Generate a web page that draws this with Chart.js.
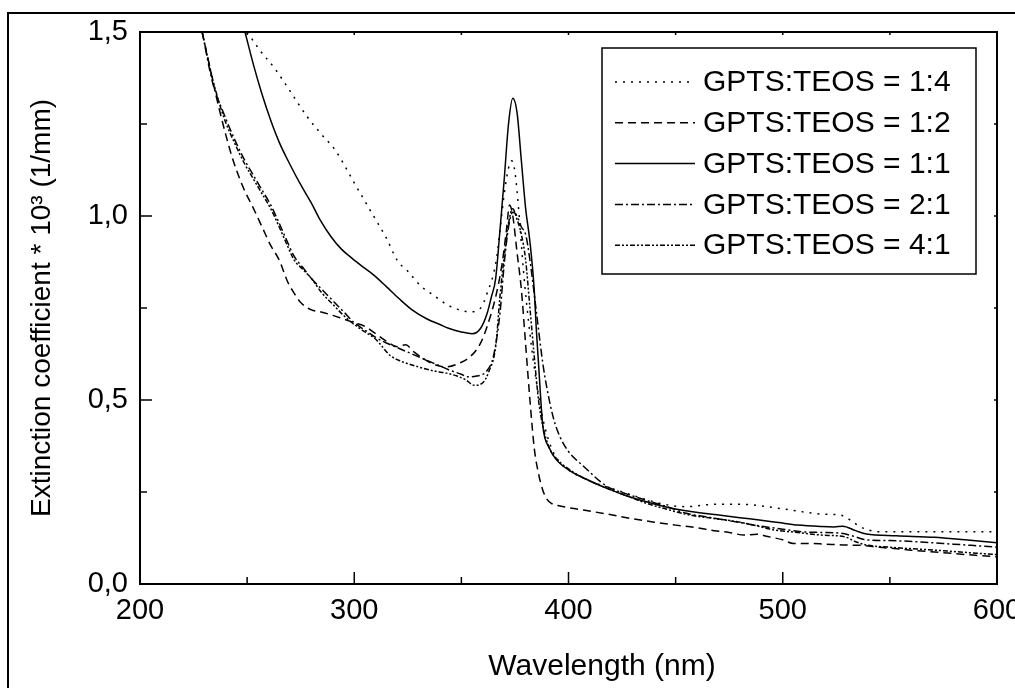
<!DOCTYPE html>
<html>
<head>
<meta charset="utf-8">
<script src="https://cdn.jsdelivr.net/npm/chart.js@4.4.1/dist/chart.umd.min.js"></script>
<style>
  html, body { margin: 0; padding: 0; background: #fff; }
  #wrap { width: 1015px; height: 688px; position: relative; }
</style>
</head>
<body>
<div id="wrap"><canvas id="chart" width="1015" height="688"></canvas></div>
<script>
// axis ticks
const xTicks = [200, 300, 400, 500, 600];
const xMinor = [250, 350, 450, 550];
const yTicks = [0, 0.5, 1.0, 1.5];
const yMinor = [0.25, 0.75, 1.25];

// legend labels
const labels = ['GPTS:TEOS = 1:4', 'GPTS:TEOS = 1:2', 'GPTS:TEOS = 1:1', 'GPTS:TEOS = 2:1', 'GPTS:TEOS = 4:1'];

// GPTS:TEOS = 1:4 (dotted)
const wl14 = [250, 256, 263, 270, 278, 285, 291, 300, 309, 315, 320, 325, 331, 337, 343, 349, 354, 359, 362, 366, 368, 370, 372, 373.5, 375, 377, 379, 382, 385, 388, 392, 396, 400, 410, 420, 436, 446, 455, 464, 472, 479, 486, 493, 505, 518, 527, 532, 536, 545, 560, 571, 585, 600];
const ext14 = [1.5, 1.45, 1.40, 1.34, 1.27, 1.22, 1.18, 1.09, 1.0, 0.94, 0.88, 0.85, 0.81, 0.785, 0.76, 0.745, 0.74, 0.75, 0.79, 0.87, 0.96, 1.06, 1.13, 1.15, 1.12, 1.0, 0.85, 0.68, 0.55, 0.45, 0.37, 0.33, 0.31, 0.28, 0.26, 0.23, 0.215, 0.21, 0.215, 0.217, 0.217, 0.215, 0.21, 0.2, 0.19, 0.187, 0.172, 0.156, 0.142, 0.142, 0.142, 0.142, 0.142];

// GPTS:TEOS = 1:2 (dashed)
const wl12 = [229, 232, 237, 243, 248, 253, 257, 261, 265, 269, 272, 275, 280, 284, 290, 295, 300, 305, 310, 315, 320, 324, 328, 333, 338, 343, 349, 354, 359, 362, 366, 369, 371, 372.5, 374, 376, 378, 380, 382, 384, 386, 388, 390, 392, 396, 407, 418, 429, 440, 450, 460, 468, 475, 482, 488, 493, 500, 505, 512, 518, 528, 536, 545, 560, 575, 590, 600];
const ext12 = [1.5, 1.42, 1.29, 1.16, 1.08, 1.02, 0.97, 0.92, 0.88, 0.82, 0.79, 0.765, 0.745, 0.74, 0.73, 0.72, 0.71, 0.70, 0.68, 0.66, 0.645, 0.65, 0.63, 0.61, 0.595, 0.59, 0.60, 0.617, 0.655, 0.70, 0.78, 0.87, 0.96, 1.03, 1.0, 0.9, 0.8, 0.65, 0.5, 0.37, 0.3, 0.255, 0.23, 0.219, 0.212, 0.201, 0.19, 0.178, 0.168, 0.16, 0.153, 0.145, 0.14, 0.133, 0.135, 0.129, 0.12, 0.11, 0.11, 0.109, 0.106, 0.105, 0.1, 0.092, 0.085, 0.078, 0.074];

// GPTS:TEOS = 1:1 (solid)
const wl11 = [249, 253, 257, 261, 265, 270, 275, 280, 284, 289, 294, 299, 304, 309, 315, 321, 327, 334, 340, 344, 350, 355, 359, 362, 364, 366, 368, 370, 372, 374, 376, 378, 380, 382, 384, 385, 386, 388, 391, 394, 400, 410, 418, 427, 436, 445, 454, 462, 471, 480, 489, 498, 507, 518, 524, 528, 534, 539, 553, 571, 585, 600];
const ext11 = [1.5, 1.41, 1.33, 1.26, 1.20, 1.14, 1.085, 1.035, 0.99, 0.945, 0.91, 0.885, 0.862, 0.84, 0.808, 0.775, 0.745, 0.72, 0.705, 0.695, 0.685, 0.68, 0.695, 0.735, 0.78, 0.83, 0.96, 1.1, 1.25, 1.32, 1.28, 1.15, 1.02, 0.93, 0.8, 0.69, 0.6, 0.43, 0.37, 0.34, 0.31, 0.28, 0.26, 0.24, 0.224, 0.21, 0.2, 0.193, 0.187, 0.18, 0.174, 0.167, 0.16, 0.156, 0.155, 0.157, 0.145, 0.136, 0.131, 0.127, 0.12, 0.112];

// GPTS:TEOS = 2:1 (dash-dot)
const wl21 = [229, 234, 239, 244, 249, 253, 257, 261, 265, 268, 272, 276, 280, 285, 290, 295, 300, 305, 310, 315, 321, 327, 333, 339, 345, 350, 353, 357, 362, 365, 368, 370, 372, 374, 376, 378, 380, 382, 385, 388, 390, 393, 396, 400, 407, 418, 427, 436, 446, 455, 464, 473, 482, 491, 500, 509, 518, 527, 533, 539, 550, 562, 575, 588, 600];
const ext21 = [1.5, 1.36, 1.28, 1.21, 1.15, 1.11, 1.07, 1.03, 0.98, 0.94, 0.89, 0.86, 0.83, 0.8, 0.77, 0.74, 0.71, 0.69, 0.67, 0.655, 0.64, 0.625, 0.61, 0.595, 0.58, 0.57, 0.563, 0.565, 0.58, 0.62, 0.735, 0.87, 0.97, 1.01, 1.0, 0.97, 0.95, 0.88, 0.74, 0.6, 0.53, 0.45, 0.40, 0.36, 0.32, 0.265, 0.245, 0.228, 0.21, 0.192, 0.183, 0.174, 0.165, 0.156, 0.149, 0.142, 0.14, 0.138, 0.13, 0.12, 0.118, 0.115, 0.11, 0.105, 0.10];

// GPTS:TEOS = 4:1 (dash-dot-dot)
const wl41 = [229, 234, 239, 244, 249, 253, 257, 261, 265, 268, 272, 276, 280, 285, 290, 295, 300, 305, 310, 317, 322, 327, 333, 338, 343, 348, 352, 356, 360, 363, 366, 368, 370.5, 372, 374, 376, 378, 380, 382, 384, 386, 388, 391, 395, 402, 410, 418, 427, 436, 446, 457, 468, 479, 488, 496, 507, 518, 529, 534, 539, 550, 560, 571, 585, 600];
const ext41 = [1.5, 1.37, 1.27, 1.2, 1.14, 1.1, 1.06, 1.02, 0.97, 0.93, 0.88, 0.855, 0.83, 0.79, 0.76, 0.73, 0.705, 0.685, 0.665, 0.62, 0.605, 0.595, 0.585, 0.578, 0.573, 0.565, 0.555, 0.54, 0.547, 0.58, 0.645, 0.78, 0.915, 0.98, 1.02, 0.99, 0.95, 0.88, 0.75, 0.62, 0.5, 0.43, 0.37, 0.337, 0.305, 0.28, 0.26, 0.24, 0.22, 0.203, 0.187, 0.178, 0.169, 0.158, 0.147, 0.14, 0.133, 0.128, 0.115, 0.106, 0.1, 0.096, 0.092, 0.086, 0.08];

const FONT = "'Liberation Sans', Arial, sans-serif";
const dashes = [[2, 6], [8, 5], [], [8, 3, 2, 3], [5, 2, 2, 2, 2, 2]];

function toPoints(xs, ys) {
    return xs.map((x, i) => ({ x: x, y: ys[i] }));
}

const series = [[wl14, ext14], [wl12, ext12], [wl11, ext11], [wl21, ext21], [wl41, ext41]];
const datasets = series.map((s, i) => ({
    label: labels[i],
    data: toPoints(s[0], s[1]),
    borderColor: '#000',
    borderWidth: 1.5,
    borderDash: dashes[i],
    pointRadius: 0,
    fill: false,
    cubicInterpolationMode: 'monotone'
}));

// frame, inward ticks, x title and legend box
const decorPlugin = {
    id: 'decor',
    afterDraw(chart) {
        const ctx = chart.ctx;
        const a = chart.chartArea;
        const xs = chart.scales.x;
        const ys = chart.scales.y;
        ctx.save();
        ctx.strokeStyle = '#000';
        ctx.setLineDash([]);

        // outer frame
        ctx.lineWidth = 2;
        ctx.beginPath();
        ctx.moveTo(8, 688);
        ctx.lineTo(8, 13);
        ctx.lineTo(1015, 13);
        ctx.stroke();

        // plot box
        ctx.strokeRect(a.left, a.top, a.right - a.left, a.bottom - a.top);

        ctx.lineWidth = 1.5;
        ctx.beginPath();
        xTicks.forEach(v => {
            const px = xs.getPixelForValue(v);
            ctx.moveTo(px, a.bottom); ctx.lineTo(px, a.bottom - 12);
            ctx.moveTo(px, a.top); ctx.lineTo(px, a.top + 3);
        });
        xMinor.forEach(v => {
            const px = xs.getPixelForValue(v);
            ctx.moveTo(px, a.bottom); ctx.lineTo(px, a.bottom - 7);
            ctx.moveTo(px, a.top); ctx.lineTo(px, a.top + 3);
        });
        yTicks.forEach(v => {
            const py = ys.getPixelForValue(v);
            ctx.moveTo(a.left, py); ctx.lineTo(a.left + 12, py);
            ctx.moveTo(a.right, py); ctx.lineTo(a.right - 3, py);
        });
        yMinor.forEach(v => {
            const py = ys.getPixelForValue(v);
            ctx.moveTo(a.left, py); ctx.lineTo(a.left + 7, py);
            ctx.moveTo(a.right, py); ctx.lineTo(a.right - 3, py);
        });
        ctx.stroke();

        // x axis title
        ctx.fillStyle = '#000';
        ctx.font = '30px ' + FONT;
        ctx.textAlign = 'center';
        ctx.textBaseline = 'alphabetic';
        ctx.fillText('Wavelength (nm)', 602, 675);

        // legend
        ctx.fillStyle = '#fff';
        ctx.fillRect(602, 48, 374, 226);
        ctx.lineWidth = 1.5;
        ctx.strokeRect(602, 48, 374, 226);
        ctx.font = '30px ' + FONT;
        ctx.textBaseline = 'middle';
        ctx.textAlign = 'left';
        ctx.fillStyle = '#000';
        labels.forEach((lab, i) => {
            const y = 82 + i * 40.8;
            ctx.setLineDash(dashes[i]);
            ctx.beginPath();
            ctx.moveTo(615, y);
            ctx.lineTo(695, y);
            ctx.stroke();
            ctx.setLineDash([]);
            ctx.fillText(lab, 703, y + 1);
        });
        ctx.restore();
    }
};

new Chart(document.getElementById('chart'), {
    type: 'line',
    data: { datasets: datasets },
    options: {
        responsive: false,
        animation: false,
        layout: { padding: { left: 0, top: 32, right: 18, bottom: 0 } },
        plugins: { legend: { display: false }, tooltip: { enabled: false } },
        scales: {
            x: {
                type: 'linear',
                min: 200,
                max: 600,
                grid: { display: false },
                border: { display: false },
                ticks: {
                    stepSize: 100,
                    color: '#000',
                    padding: 2,
                    maxRotation: 0,
                    font: { family: FONT, size: 29 }
                },
                afterFit(scale) {
                    scale.height = 104;
                    scale.paddingLeft = 0;
                    scale.paddingRight = 0;
                }
            },
            y: {
                min: 0,
                max: 1.5,
                grid: { display: false },
                border: { display: false },
                ticks: {
                    stepSize: 0.5,
                    color: '#000',
                    padding: 4,
                    font: { family: FONT, size: 29 },
                    callback: v => v.toFixed(1).replace('.', ',')
                },
                title: {
                    display: true,
                    text: 'Extinction coefficient * 10³ (1/mm)',
                    color: '#000',
                    font: { family: FONT, size: 28 },
                    padding: { top: 25, bottom: 0 }
                },
                afterFit(scale) {
                    scale.width = 140;
                    scale.paddingTop = 0;
                    scale.paddingBottom = 0;
                }
            }
        }
    },
    plugins: [decorPlugin]
});
</script>
</body>
</html>
